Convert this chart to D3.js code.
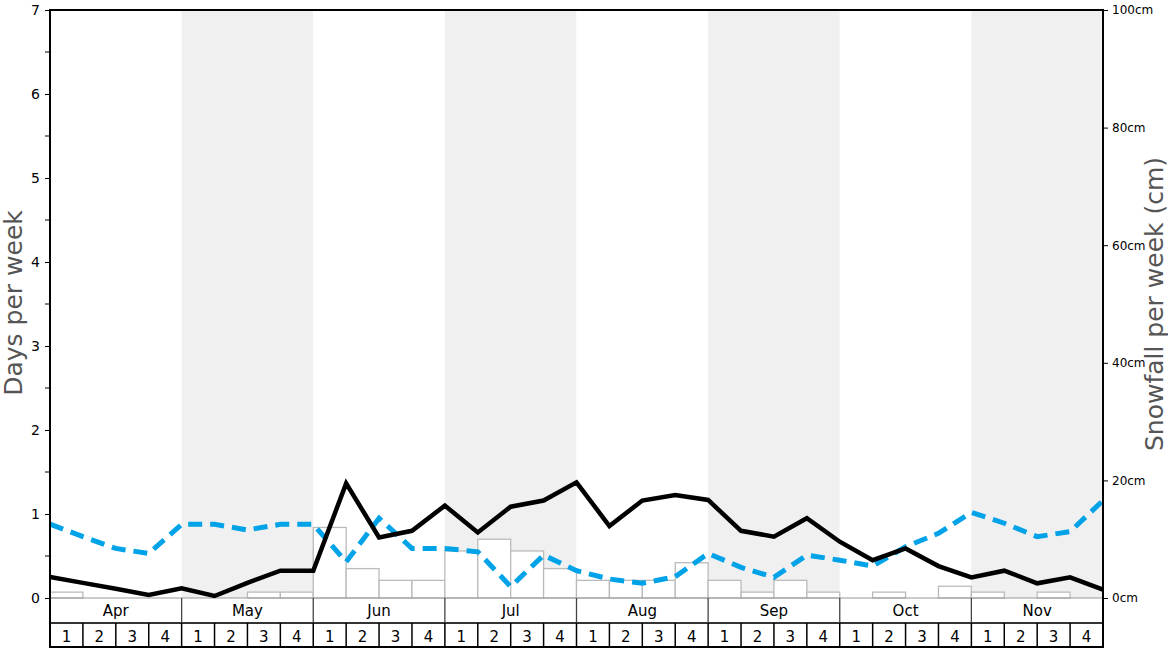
<!DOCTYPE html>
<html><head><meta charset="utf-8">
<script src="https://cdn.jsdelivr.net/npm/d3@7"></script>
<style>body{margin:0;background:#fff;}svg{display:block;font-family:"DejaVu Sans",sans-serif;}</style>
</head><body><svg id="c" width="1168" height="648"></svg>
<script>
const months = ["Apr","May","Jun","Jul","Aug","Sep","Oct","Nov"];
const weekLabels = ["1","2","3","4"];
// Snowfall per week (cm), one bar per week
const snowfallCm = [1,0,0,0, 0,0,1,1, 12,5,3,3, 8,10,8,5, 3,3,3,6, 3,1,3,1, 0,1,0,2, 1,0,1,0];
// Days per week (solid black), 33 points at week boundaries
const snowDays = [0.25,0.18,0.11,0.036, 0.115,0.024,0.18,0.325, 0.325,1.365,0.72,0.80, 1.10,0.78,1.087,1.16, 1.377,0.857,1.16,1.226, 1.167,0.80,0.73,0.95, 0.67,0.45,0.59,0.38, 0.246,0.325,0.175,0.246, 0.10];
// Days per week (dashed blue), 33 points at week boundaries
const otherDays = [0.88,0.73,0.59,0.53, 0.877,0.877,0.81,0.877, 0.877,0.43,0.95,0.59, 0.59,0.55,0.135,0.51, 0.325,0.226,0.175,0.254, 0.53,0.365,0.246,0.51, 0.45,0.38,0.61,0.77, 1.02,0.89,0.73,0.79, 1.16];
const leftTicks = [0,1,2,3,4,5,6,7];
const rightTicks = [0,20,40,60,80,100];

const L=50, R=1103, T=10, B=598, MB=623, WB=648;
const nW = months.length*4;
const svg = d3.select("#c");
const x = d3.scaleLinear().domain([0,nW]).range([L,R]);
const yL = d3.scaleLinear().domain([0,7]).range([B,T]);
const yR = d3.scaleLinear().domain([0,100]).range([B,T]);

// month bands
svg.append("g").selectAll("rect").data(months).join("rect")
  .attr("x",(d,i)=>x(i*4)).attr("y",T).attr("width",(d,i)=>x(i*4+4)-x(i*4)).attr("height",B-T)
  .attr("fill",(d,i)=>i%2? "#f0f0f0":"#fff");

// bars
svg.append("g").selectAll("rect").data(snowfallCm).join("rect")
  .attr("x",(d,i)=>x(i)).attr("width",(d,i)=>x(i+1)-x(i))
  .attr("y",d=>yR(d)).attr("height",d=>B-yR(d))
  .attr("fill","#fff").attr("stroke","#bbb").attr("stroke-width",1.3)
  .attr("display",d=>d>0?null:"none");

// baseline
svg.append("line").attr("x1",L).attr("x2",R).attr("y1",B).attr("y2",B).attr("stroke","#999").attr("stroke-width",1);

const line = d3.line().x((d,i)=>x(i)).y(d=>yL(d));
svg.append("path").datum(otherDays).attr("d",line).attr("fill","none")
  .attr("stroke","#00a2e8").attr("stroke-width",5).attr("stroke-dasharray","14,8");
svg.append("path").datum(snowDays).attr("d",line).attr("fill","none")
  .attr("stroke","#000").attr("stroke-width",4.5).attr("stroke-linejoin","miter");

// left axis
const la = svg.append("g").attr("transform",`translate(${L},0)`)
  .call(d3.axisLeft(yL).tickValues(leftTicks).tickSize(5).tickFormat(d3.format("d")));
la.select(".domain").remove();
la.selectAll("text").attr("font-size",14).attr("fill","#000").attr("font-family","DejaVu Sans").attr("x",-10);
la.selectAll("line").attr("stroke","#000");
svg.append("g").selectAll("line").data(d3.range(0.5,7,1)).join("line")
  .attr("x1",L-5).attr("x2",L).attr("y1",d=>yL(d)).attr("y2",d=>yL(d)).attr("stroke","#000");

// right axis
const ra = svg.append("g").attr("transform",`translate(${R},0)`)
  .call(d3.axisRight(yR).tickValues(rightTicks).tickSize(5).tickFormat(d=>d+"cm"));
ra.select(".domain").remove();
ra.selectAll("text").attr("font-size",12).attr("fill","#000").attr("font-family","DejaVu Sans").attr("x",9);
ra.selectAll("line").attr("stroke","#000");

// axis titles
svg.append("text").attr("transform",`translate(22,303) rotate(-90)`).attr("text-anchor","middle")
  .attr("font-size",25).attr("fill","#555").text("Days per week");
svg.append("text").attr("transform",`translate(1163,304) rotate(-90)`).attr("text-anchor","middle")
  .attr("font-size",25).attr("fill","#555").text("Snowfall per week (cm)");

// month row
const mg = svg.append("g");
mg.selectAll("line").data(d3.range(1,months.length)).join("line")
  .attr("x1",d=>x(d*4)).attr("x2",d=>x(d*4)).attr("y1",B).attr("y2",MB).attr("stroke","#444").attr("stroke-width",1.3);
mg.selectAll("text").data(months).join("text")
  .attr("x",(d,i)=>(x(i*4)+x(i*4+4))/2).attr("y",(B+MB)/2+5.5).attr("text-anchor","middle")
  .attr("font-size",15).attr("fill","#000").text(d=>d);
svg.append("line").attr("x1",L).attr("x2",R).attr("y1",MB).attr("y2",MB).attr("stroke","#333").attr("stroke-width",2);

// week row
const wg = svg.append("g");
wg.selectAll("line").data(d3.range(1,nW)).join("line")
  .attr("x1",d=>x(d)).attr("x2",d=>x(d)).attr("y1",MB).attr("y2",WB).attr("stroke","#000").attr("stroke-width",1.5);
wg.selectAll("text").data(d3.range(nW)).join("text")
  .attr("x",d=>(x(d)+x(d+1))/2).attr("y",(MB+WB)/2+6).attr("text-anchor","middle")
  .attr("font-size",15).attr("fill","#000").text(d=>weekLabels[d%4]);
svg.append("line").attr("x1",L).attr("x2",R).attr("y1",WB-1).attr("y2",WB-1).attr("stroke","#000").attr("stroke-width",2);

// frame
svg.append("line").attr("x1",L).attr("x2",R).attr("y1",T).attr("y2",T).attr("stroke","#000").attr("stroke-width",2);
svg.append("line").attr("x1",L).attr("x2",L).attr("y1",T-1).attr("y2",WB).attr("stroke","#000").attr("stroke-width",2);
svg.append("line").attr("x1",R).attr("x2",R).attr("y1",T-1).attr("y2",WB).attr("stroke","#000").attr("stroke-width",2);
</script></body></html>
